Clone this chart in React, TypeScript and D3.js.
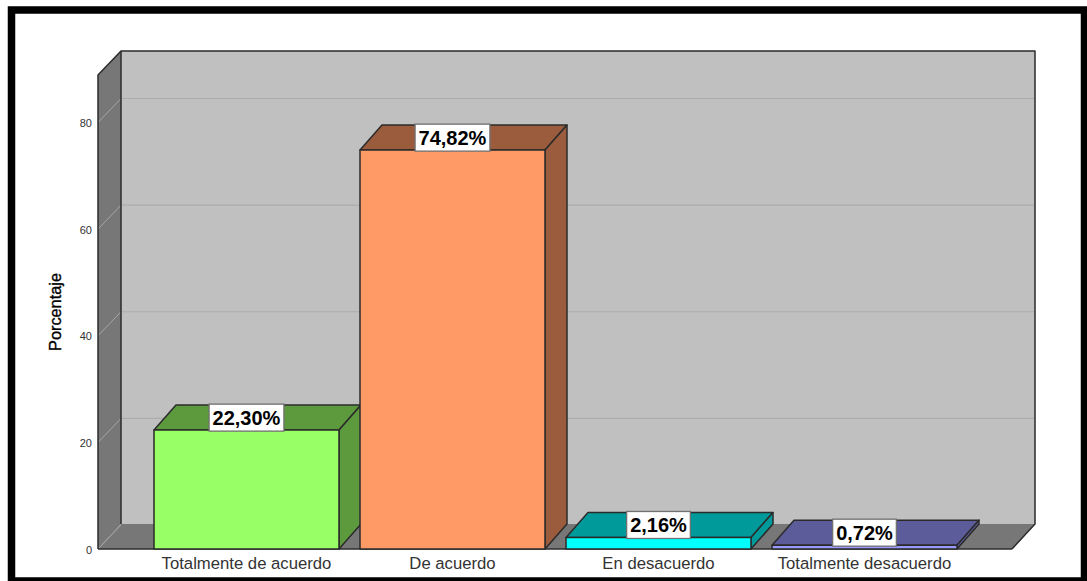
import React from "react";
import * as d3 from "d3";

const categories = ["Totalmente de acuerdo", "De acuerdo", "En desacuerdo", "Totalmente desacuerdo"];
const percentages = [22.3, 74.82, 2.16, 0.72];
const valueLabels = ["22,30%", "74,82%", "2,16%", "0,72%"];
const frontColors = ["#99ff66", "#ff9966", "#00ffff", "#9999ff"];
const shadeColors = ["#5c9a3d", "#9a5c3d", "#009a9a", "#5c5c9a"];
const yTicks = [0, 20, 40, 60, 80];
const axisTitle = "Porcentaje";

const WIDTH = 1087;
const HEIGHT = 581;
const FRONT_LEFT = 98;
const FRONT_RIGHT = 1012;
const FRONT_BOTTOM = 549;
const FRONT_TOP = 75;
const DEPTH_X = 23;
const DEPTH_Y = 25;
const GRID_DEPTH_Y = 24;
const BAR_DEPTH_X = 22;
const STROKE = "#2b2b2b";
const FONT = "'Liberation Sans', Arial, sans-serif";

const y = d3.scaleLinear().domain([0, 80]).range([FRONT_BOTTOM, 122.5]);
const x = d3.scaleBand<string>().domain(categories).range([154, 957]).paddingInner(0.102).paddingOuter(0);
const poly = d3.line<[number, number]>();

function textWidth(label: string) {
  const ctx = document.createElement("canvas").getContext("2d");
  if (!ctx) return label.length * 11.3;
  ctx.font = `bold 20px ${FONT}`;
  return ctx.measureText(label).width;
}

function Shape({ pts, fill, stroke = STROKE, sw = 1.5 }: { pts: [number, number][]; fill: string; stroke?: string; sw?: number }) {
  return <path d={poly(pts) + "Z"} fill={fill} stroke={stroke} strokeWidth={sw} strokeLinejoin="round" />;
}

export default function App() {
  const backLeft = FRONT_LEFT + DEPTH_X;
  const backRight = FRONT_RIGHT + DEPTH_X;
  const backBottom = FRONT_BOTTOM - DEPTH_Y;
  const backTop = FRONT_TOP - DEPTH_Y + 1;

  return (
    <svg width={WIDTH} height={HEIGHT} style={{ position: "fixed", left: 0, top: 0, background: "#fff" }}>
      {/* outer border */}
      <rect x={11.5} y={10} width={1073} height={571} fill="none" stroke="#000" strokeWidth={7.5} />

      {/* back wall, floor and left side of the 3D frame */}
      <rect x={backLeft} y={backTop} width={backRight - backLeft} height={backBottom - backTop} fill="#c0c0c0" />
      <path d={poly([[FRONT_LEFT, FRONT_BOTTOM], [FRONT_RIGHT, FRONT_BOTTOM], [backRight, backBottom], [backLeft, backBottom]]) + "Z"} fill="#777" />
      <path d={poly([[FRONT_LEFT, FRONT_TOP], [backLeft, backTop], [backLeft, backBottom], [FRONT_LEFT, FRONT_BOTTOM]]) + "Z"} fill="#777" />

      {/* gridlines bent across side wall and back wall */}
      {yTicks.map((t) => (
        <g key={t} fill="none">
          <line x1={FRONT_LEFT} y1={y(t)} x2={backLeft} y2={y(t) - GRID_DEPTH_Y} stroke="#a6a6a6" strokeWidth={1} />
          {t > 0 && <line x1={backLeft} y1={y(t) - GRID_DEPTH_Y} x2={backRight} y2={y(t) - GRID_DEPTH_Y} stroke="#acacac" strokeWidth={1.2} />}
        </g>
      ))}

      {/* frame edges */}
      <path
        d={poly([[FRONT_LEFT, FRONT_BOTTOM], [FRONT_LEFT, FRONT_TOP], [backLeft, backTop], [backRight, backTop], [backRight, backBottom], [FRONT_RIGHT, FRONT_BOTTOM]]) + ""}
        fill="none" stroke={STROKE} strokeWidth={1.5} strokeLinejoin="round"
      />
      <line x1={backLeft} y1={backTop} x2={backLeft} y2={backBottom} stroke={STROKE} strokeWidth={1.5} />
      <line x1={FRONT_LEFT} y1={FRONT_BOTTOM} x2={FRONT_RIGHT} y2={FRONT_BOTTOM} stroke={STROKE} strokeWidth={1.5} />

      {/* value axis labels */}
      {yTicks.map((t) => (
        <text key={t} x={92} y={y(t) + 4.5} textAnchor="end" fontFamily={FONT} fontSize={11} fill="#333">{t}</text>
      ))}
      <text
        transform="translate(61,312) rotate(-90)"
        textAnchor="middle"
        fontFamily={FONT}
        fontSize={17}
        textLength={78}
        lengthAdjust="spacingAndGlyphs"
        stroke="#000"
        strokeWidth={0.35}
        fill="#000"
      >
        {axisTitle}
      </text>

      {/* 3D bars */}
      {categories.map((c, i) => {
        const x0 = x(c) as number;
        const x1 = x0 + x.bandwidth();
        const top = y(percentages[i]);
        const bottom = y(0);
        return (
          <g key={c}>
            <Shape pts={[[x0, top], [x0 + BAR_DEPTH_X, top - DEPTH_Y], [x1 + BAR_DEPTH_X, top - DEPTH_Y], [x1, top]]} fill={shadeColors[i]} />
            <Shape pts={[[x1, top], [x1 + BAR_DEPTH_X, top - DEPTH_Y], [x1 + BAR_DEPTH_X, bottom - DEPTH_Y], [x1, bottom]]} fill={shadeColors[i]} />
            <Shape pts={[[x0, top], [x1, top], [x1, bottom], [x0, bottom]]} fill={frontColors[i]} />
          </g>
        );
      })}

      {/* category labels */}
      {categories.map((c) => (
        <text key={c} x={(x(c) as number) + x.bandwidth() / 2} y={569} textAnchor="middle" fontFamily={FONT} fontSize={16.7} fill="#333">{c}</text>
      ))}

      {/* value callouts */}
      {categories.map((c, i) => {
        const cx = (x(c) as number) + x.bandwidth() / 2;
        const w = textWidth(valueLabels[i]) + 7;
        const top = y(percentages[i]);
        return (
          <g key={c}>
            <rect x={cx - w / 2} y={top - 26} width={w} height={27} fill="#fff" stroke="#707070" strokeWidth={1.3} />
            <text x={cx} y={top - 5.5} textAnchor="middle" fontFamily={FONT} fontSize={20} fontWeight="bold" fill="#000">{valueLabels[i]}</text>
          </g>
        );
      })}
    </svg>
  );
}
